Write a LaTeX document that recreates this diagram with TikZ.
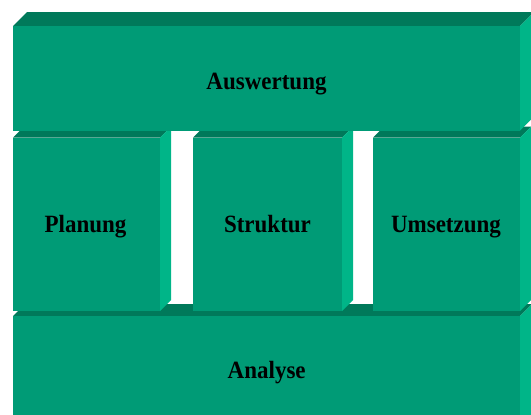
\documentclass[tikz,border=0pt]{standalone}
\usepackage{fontspec}
\setmainfont{Liberation Serif}
\definecolor{frontgreen}{RGB}{0,155,118}
\definecolor{topgreen}{RGB}{0,121,90}
\definecolor{sidegreen}{RGB}{0,181,136}
\tikzset{
  frontface/.style={fill=frontgreen},
  topface/.style={fill=topgreen},
  sideface/.style={fill=sidegreen},
  bricktext/.style={anchor=base, text=black, yscale=1.08, font=\fontsize{23}{27}\selectfont\bfseries},
}
% brick: left, top, right, bottom, depth
\newcommand{\brick}[5]{%
  \fill[topface] (#1,#2) -- (#1+#5,#2-#5) -- (#3+#5,#2-#5) -- (#3,#2) -- cycle;
  \fill[sideface] (#3,#2) -- (#3+#5,#2-#5) -- (#3+#5,#4-#5) -- (#3,#4) -- cycle;
  \fill[frontface] (#1,#2) rectangle (#3,#4);
}
\begin{document}
\begin{tikzpicture}[x=1pt, y=-1pt]
   \useasboundingbox (0,0) rectangle (531,415);
   \clip (0,0) rectangle (531,415);
   % bottom layer
   \brick{13}{316}{520}{440}{12}
   % middle layer
   \brick{13}{137.5}{160}{311}{11}
   \brick{193}{137.5}{342}{311}{11}
   \brick{373}{137.5}{520}{311}{11}
   % top layer
   \brick{13}{26}{520}{130.7}{14}
   \node[bricktext] (auswertung) at (266.5,89.3) {Auswertung};
   \node[bricktext] (planung) at (85.5,232.5) {Planung};
   \node[bricktext] (struktur) at (267.5,232.5) {Struktur};
   \node[bricktext] (umsetzung) at (446,232.5) {Umsetzung};
   \node[bricktext] (analyse) at (266.7,378.3) {Analyse};
\end{tikzpicture}
\end{document}
